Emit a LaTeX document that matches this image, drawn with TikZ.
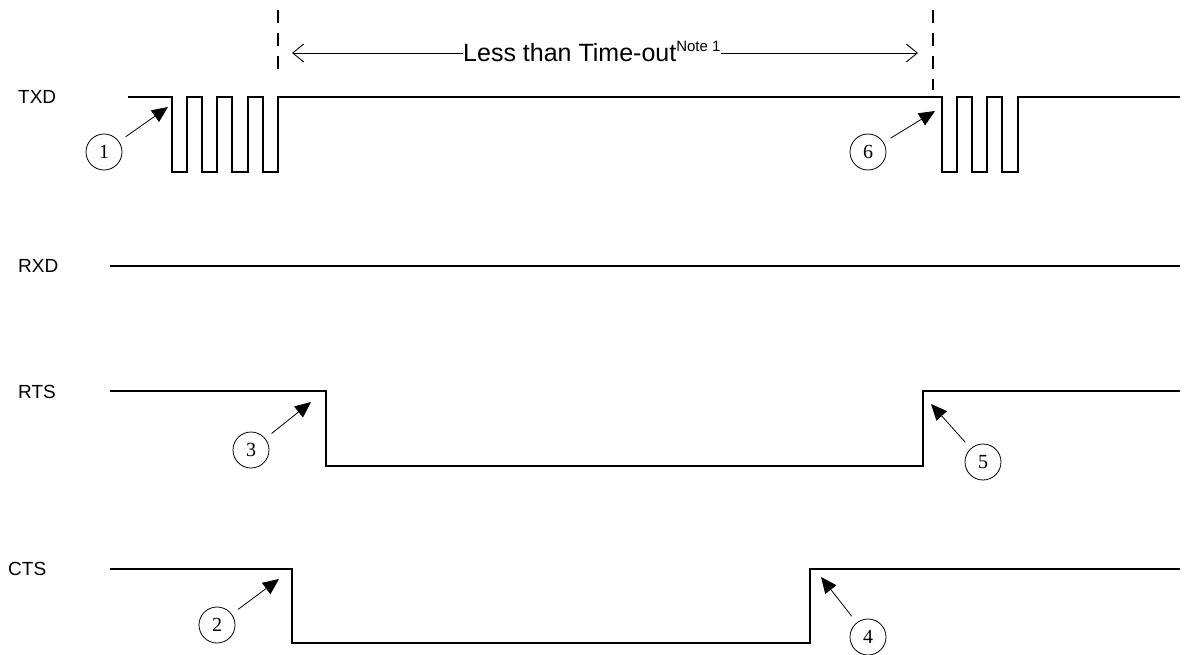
\documentclass[tikz,border=0pt]{standalone}
\usepackage{fontspec}
\setmainfont{Liberation Sans}
\newfontfamily\numfont{Liberation Serif}
\usetikzlibrary{arrows.meta}
\begin{document}
\begin{tikzpicture}[x=1pt,y=-1pt,
  sig/.style={line width=1.7pt, line join=miter},
  lbl/.style={font=\fontsize{19}{22}\selectfont, anchor=west, inner sep=0pt},
  num/.style={circle, draw, line width=0.8pt, minimum size=36pt, inner sep=0pt, font=\numfont\fontsize{20}{22}\selectfont},
  ann/.style={line width=0.8pt, -{Triangle[length=16pt,width=14pt]}, shorten <=8pt},
  guide/.style={line width=1.2pt, dash pattern=on 13pt off 10pt},
  spanline/.style={line width=0.8pt},
  barb/.style={-{Straight Barb[length=11pt,width=18pt,line width=0.9pt]}}]
\useasboundingbox (0,0) rectangle (1185,655);

% signal labels
\node[lbl] (txd) at (18,97) {TXD};
\node[lbl] (rxd) at (18,266) {RXD};
\node[lbl] (rts) at (18,392) {RTS};
\node[lbl] (cts) at (8,569) {CTS};

% TXD
\draw[sig] (128,97) -- (172,97) -- (172,172) -- (187,172) -- (187,97)
  -- (202,97) -- (202,172) -- (217,172) -- (217,97)
  -- (232,97) -- (232,172) -- (248,172) -- (248,97)
  -- (263,97) -- (263,172) -- (278,172) -- (278,97)
  -- (942,97) -- (942,172) -- (957,172) -- (957,97)
  -- (972,97) -- (972,172) -- (987,172) -- (987,97)
  -- (1002,97) -- (1002,172) -- (1018,172) -- (1018,97) -- (1180,97);

% RXD
\draw[sig] (110,266) -- (1180,266);

% RTS
\draw[sig] (110,391) -- (326,391) -- (326,466) -- (923,466) -- (923,391) -- (1180,391);

% CTS
\draw[sig] (110,569) -- (292,569) -- (292,643) -- (810,643) -- (810,569) -- (1180,569);

% guides
\coordinate (g1a) at (278,10);
\coordinate (g1b) at (278,75);
\coordinate (g2a) at (933,10);
\coordinate (g2b) at (933,90);
\draw[guide] (g1a) -- (g1b);
\draw[guide] (g2a) -- (g2b);

% span arrow
\coordinate (sl) at (292,53);
\coordinate (sr) at (918,53);
\node[anchor=base west, inner sep=0pt, font=\fontsize{25}{27}\selectfont] (sp) at (463,62)
  {Less than Time-out\raisebox{0.42em}{\fontsize{15}{16}\selectfont Note 1}};
\draw[spanline,barb] (sl -| sp.west) -- (sl);
\draw[spanline,barb] (sr -| sp.east) -- (sr);

% numbered circles
\node[num] (c1) at (104,152) {1};
\node[num] (c2) at (217,625) {2};
\node[num] (c3) at (251,450) {3};
\node[num] (c4) at (868,637) {4};
\node[num] (c5) at (983,462) {5};
\node[num] (c6) at (868,152) {6};

\coordinate (t1) at (168,107);
\coordinate (t2) at (279,579);
\coordinate (t3) at (311,402);
\coordinate (t4) at (821,577);
\coordinate (t5) at (931,404);
\coordinate (t6) at (935,111);

\draw[ann] (c1) -- (t1);
\draw[ann] (c2) -- (t2);
\draw[ann] (c3) -- (t3);
\draw[ann] (c4) -- (t4);
\draw[ann] (c5) -- (t5);
\draw[ann] (c6) -- (t6);
\end{tikzpicture}
\end{document}
